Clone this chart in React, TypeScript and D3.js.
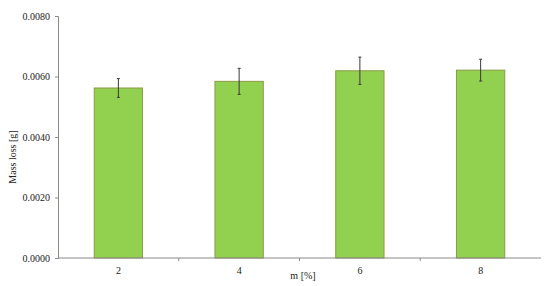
import { useEffect, useRef } from "react";
import * as d3 from "d3";

// m [%] categories and mass loss values with error half-widths
const categories = ["2", "4", "6", "8"];
const massLoss = [0.00562, 0.00584, 0.00619, 0.00621];
const errors = [0.00031, 0.00043, 0.00045, 0.00036];
const yTicks = [0, 0.002, 0.004, 0.006, 0.008];

const App = () => {
  const svgRef = useRef<SVGSVGElement | null>(null);

  useEffect(() => {
    const width = 550;
    const height = 286;
    const margin = { top: 16, right: 9, bottom: 28, left: 58 };
    const font = "'Liberation Serif', 'DejaVu Serif', serif";

    const svg = d3.select(svgRef.current).attr("width", width).attr("height", height);
    svg.selectAll("*").remove();

    const x = d3
      .scaleBand()
      .domain(categories)
      .range([margin.left, width - margin.right])
      .paddingInner(0.6)
      .paddingOuter(0.3);

    const y = d3
      .scaleLinear()
      .domain([0, 0.008])
      .range([height - margin.bottom, margin.top]);

    const data = categories.map((c, i) => ({ c, v: massLoss[i], e: errors[i] }));

    // bars
    svg
      .selectAll(".bar")
      .data(data)
      .enter()
      .append("rect")
      .attr("x", (d) => x(d.c)!)
      .attr("y", (d) => y(d.v))
      .attr("width", x.bandwidth())
      .attr("height", (d) => y(0) - y(d.v))
      .attr("fill", "#92D050")
      .attr("stroke", "#8c9a45")
      .attr("stroke-width", 1);

    // error bars
    const eb = svg.selectAll(".err").data(data).enter().append("g");
    eb.append("line")
      .attr("x1", (d) => x(d.c)! + x.bandwidth() / 2)
      .attr("x2", (d) => x(d.c)! + x.bandwidth() / 2)
      .attr("y1", (d) => y(d.v + d.e))
      .attr("y2", (d) => y(d.v - d.e))
      .attr("stroke", "#3a3a3a")
      .attr("stroke-width", 1);
    eb.append("line")
      .attr("x1", (d) => x(d.c)! + x.bandwidth() / 2 - 1.5)
      .attr("x2", (d) => x(d.c)! + x.bandwidth() / 2 + 1.5)
      .attr("y1", (d) => y(d.v + d.e))
      .attr("y2", (d) => y(d.v + d.e))
      .attr("stroke", "#3a3a3a");
    eb.append("line")
      .attr("x1", (d) => x(d.c)! + x.bandwidth() / 2 - 1.5)
      .attr("x2", (d) => x(d.c)! + x.bandwidth() / 2 + 1.5)
      .attr("y1", (d) => y(d.v - d.e))
      .attr("y2", (d) => y(d.v - d.e))
      .attr("stroke", "#3a3a3a");

    // y axis
    const yAxis = svg
      .append("g")
      .attr("transform", `translate(${margin.left},0)`)
      .call(
        d3
          .axisLeft(y)
          .tickValues(yTicks)
          .tickSize(3)
          .tickPadding(5)
          .tickFormat(d3.format(".4f"))
      );
    yAxis.select(".domain").attr("stroke", "#8a8a8a");
    yAxis.selectAll("line").attr("stroke", "#8a8a8a");
    yAxis.selectAll("text").attr("font-family", font).attr("font-size", 10).attr("fill", "#222");

    // x axis: line with ticks between categories
    const x0 = margin.left;
    const x1 = width - margin.right;
    const step = (x1 - x0) / categories.length;
    const xg = svg.append("g");
    xg.append("line")
      .attr("x1", x0)
      .attr("x2", x1)
      .attr("y1", y(0))
      .attr("y2", y(0))
      .attr("stroke", "#8a8a8a");
    xg.selectAll(".sep")
      .data(d3.range(1, categories.length))
      .enter()
      .append("line")
      .attr("x1", (i) => x0 + i * step)
      .attr("x2", (i) => x0 + i * step)
      .attr("y1", y(0))
      .attr("y2", y(0) + 3)
      .attr("stroke", "#8a8a8a");
    xg.selectAll(".lbl")
      .data(categories)
      .enter()
      .append("text")
      .attr("x", (d) => x(d)! + x.bandwidth() / 2)
      .attr("y", y(0) + 16)
      .attr("text-anchor", "middle")
      .attr("font-family", font)
      .attr("font-size", 10)
      .attr("fill", "#222")
      .text((d) => d);

    // axis titles
    svg
      .append("text")
      .attr("x", 303)
      .attr("y", 279)
      .attr("text-anchor", "middle")
      .attr("font-family", font)
      .attr("font-size", 10)
      .attr("fill", "#222")
      .text("m [%]");
    svg
      .append("text")
      .attr("transform", `translate(16,157) rotate(-90)`)
      .attr("text-anchor", "middle")
      .attr("font-family", font)
      .attr("font-size", 10)
      .attr("fill", "#222")
      .text("Mass loss [g]");
  }, []);

  return (
    <svg
      ref={svgRef}
      style={{ position: "absolute", left: 0, top: 0, display: "block" }}
    ></svg>
  );
};

export default App;
